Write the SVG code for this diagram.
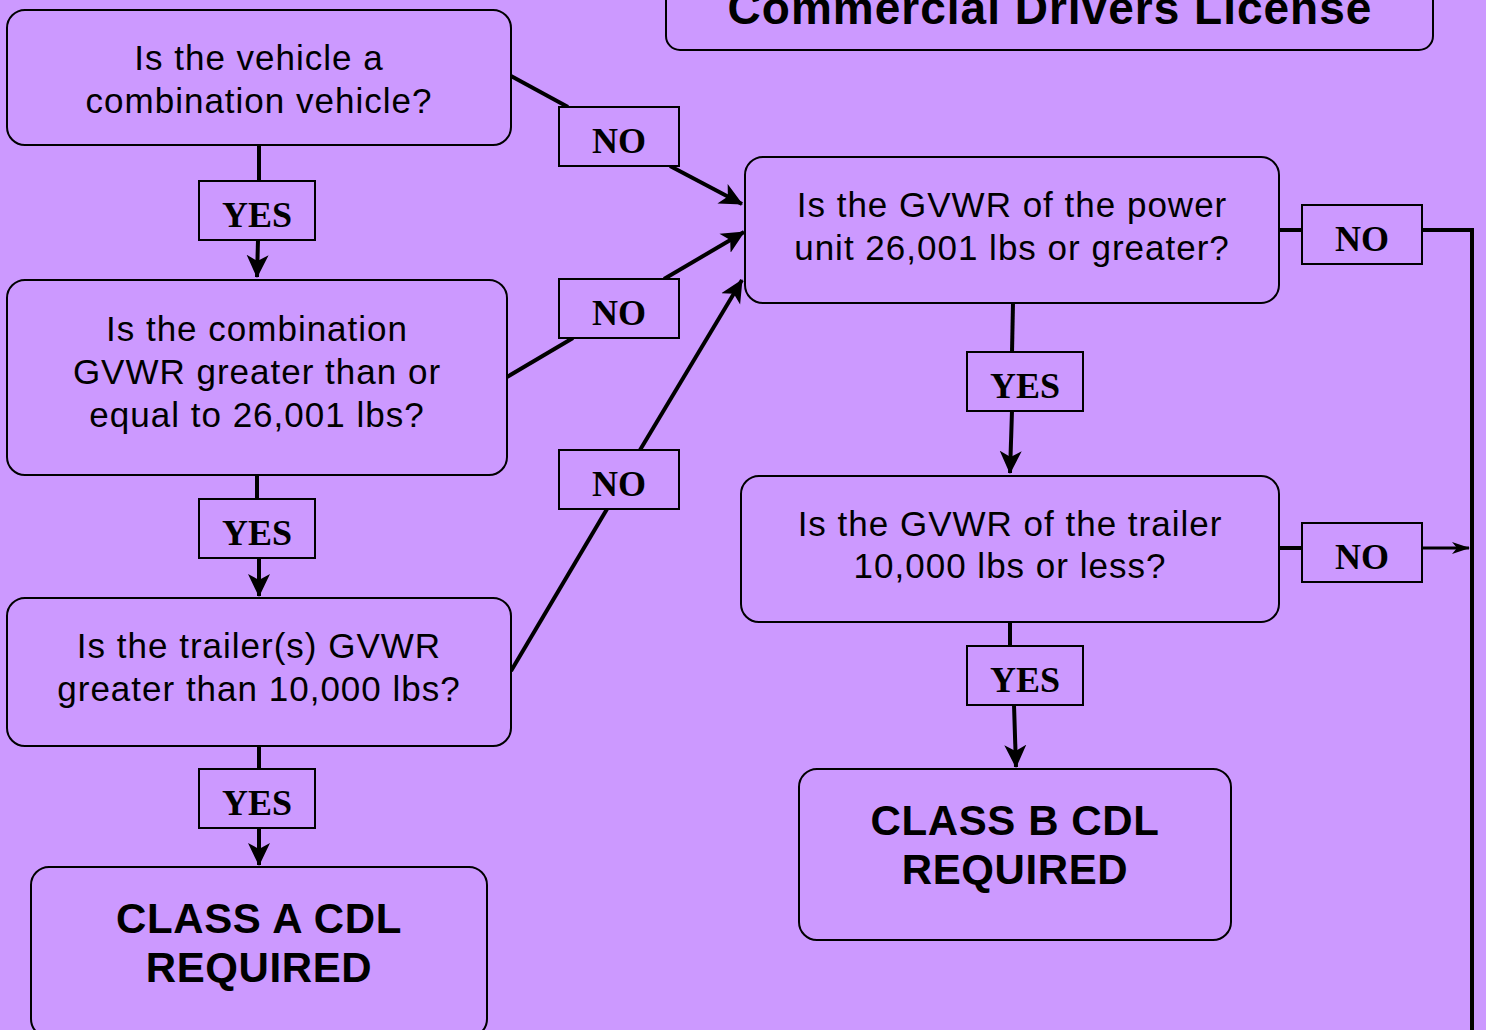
<svg xmlns="http://www.w3.org/2000/svg" width="1486" height="1030" viewBox="0 0 1486 1030">
<defs>
<marker id="ah" markerUnits="userSpaceOnUse" markerWidth="24" markerHeight="24" viewBox="0 0 24 24" refX="22" refY="12" orient="auto">
<path d="M0,1 L23,12 L0,23 L6,12 z" fill="#000"/>
</marker>
<marker id="ahs" markerUnits="userSpaceOnUse" markerWidth="18" markerHeight="14" viewBox="0 0 18 14" refX="17" refY="7" orient="auto">
<path d="M0,1 L18,7 L0,13 L5,7 z" fill="#000"/>
</marker>
<style>
.nd{fill:#CC99FF;stroke:#000;stroke-width:2}
.lb{fill:#CC99FF;stroke:#000;stroke-width:2}
.q{font-family:"Liberation Sans",Arial,sans-serif;font-size:35px;letter-spacing:1px;fill:#000;text-anchor:middle}
.big{font-family:"Liberation Sans",Arial,sans-serif;font-size:42px;letter-spacing:0.6px;font-weight:bold;fill:#000;text-anchor:middle}
.ttl{font-family:"Liberation Sans",Arial,sans-serif;font-size:46px;letter-spacing:1px;font-weight:bold;fill:#000;text-anchor:middle}
.lt{font-family:"Liberation Serif","Times New Roman",serif;font-size:36px;font-weight:bold;fill:#000;text-anchor:middle}
.c{fill:none;stroke:#000;stroke-width:4}
.cs{fill:none;stroke:#000;stroke-width:3}
</style>
</defs>
<rect width="1486" height="1030" fill="#CC99FF"/>
<g id="connectors">
<line class="c" x1="259" y1="145" x2="259" y2="181"/>
<line class="c" x1="258" y1="240" x2="257" y2="277" marker-end="url(#ah)"/>
<line class="c" x1="257" y1="475" x2="257" y2="499"/>
<line class="c" x1="259" y1="558" x2="259" y2="596" marker-end="url(#ah)"/>
<line class="c" x1="259" y1="746" x2="259" y2="769"/>
<line class="c" x1="259" y1="828" x2="259" y2="865" marker-end="url(#ah)"/>
<line class="c" x1="511" y1="76" x2="568" y2="107"/>
<line class="c" x1="670" y1="166" x2="742" y2="204" marker-end="url(#ah)"/>
<line class="c" x1="507" y1="377" x2="573" y2="338"/>
<line class="c" x1="664" y1="279" x2="744" y2="232" marker-end="url(#ah)"/>
<line class="c" x1="511" y1="671" x2="607" y2="509"/>
<line class="c" x1="640" y1="450" x2="742" y2="280" marker-end="url(#ah)"/>
<line class="c" x1="1013" y1="303" x2="1012" y2="352"/>
<line class="c" x1="1012" y1="411" x2="1010" y2="473" marker-end="url(#ah)"/>
<line class="c" x1="1010" y1="622" x2="1010" y2="646"/>
<line class="c" x1="1014" y1="705" x2="1016" y2="767" marker-end="url(#ah)"/>
<line class="c" x1="1279" y1="230" x2="1302" y2="230"/>
<polyline class="c" points="1422,230 1472,230 1472,1032"/>
<line class="c" x1="1279" y1="548" x2="1302" y2="548"/>
<line class="cs" x1="1422" y1="548" x2="1469" y2="548" marker-end="url(#ahs)"/>
</g>
<g id="title">
<rect class="nd" x="666" y="-20" width="767" height="70" rx="14"/>
<text class="ttl" x="1050" y="24">Commercial Drivers License</text>
</g>
<g id="n1">
<rect class="nd" x="7" y="10" width="504" height="135" rx="18"/>
<text class="q" x="259" y="70">Is the vehicle a</text>
<text class="q" x="259" y="113">combination vehicle?</text>
</g>
<g id="n2">
<rect class="nd" x="7" y="280" width="500" height="195" rx="18"/>
<text class="q" x="257" y="341">Is the combination</text>
<text class="q" x="257" y="384">GVWR greater than or</text>
<text class="q" x="257" y="427">equal to 26,001 lbs?</text>
</g>
<g id="n3">
<rect class="nd" x="7" y="598" width="504" height="148" rx="18"/>
<text class="q" x="259" y="658">Is the trailer(s) GVWR</text>
<text class="q" x="259" y="701">greater than 10,000 lbs?</text>
</g>
<g id="n4">
<rect class="nd" x="31" y="867" width="456" height="170" rx="18"/>
<text class="big" x="259" y="933">CLASS A CDL</text>
<text class="big" x="259" y="982">REQUIRED</text>
</g>
<g id="n5">
<rect class="nd" x="745" y="157" width="534" height="146" rx="18"/>
<text class="q" x="1012" y="217">Is the GVWR of the power</text>
<text class="q" x="1012" y="260">unit 26,001 lbs or greater?</text>
</g>
<g id="n6">
<rect class="nd" x="741" y="476" width="538" height="146" rx="18"/>
<text class="q" x="1010" y="536">Is the GVWR of the trailer</text>
<text class="q" x="1010" y="578">10,000 lbs or less?</text>
</g>
<g id="n7">
<rect class="nd" x="799" y="769" width="432" height="171" rx="18"/>
<text class="big" x="1015" y="835">CLASS B CDL</text>
<text class="big" x="1015" y="884">REQUIRED</text>
</g>
<g id="yes1"><rect class="lb" x="199" y="181" width="116" height="59"/><text class="lt" x="257" y="227">YES</text></g>
<g id="yes2"><rect class="lb" x="199" y="499" width="116" height="59"/><text class="lt" x="257" y="545">YES</text></g>
<g id="yes3"><rect class="lb" x="199" y="769" width="116" height="59"/><text class="lt" x="257" y="815">YES</text></g>
<g id="yes4"><rect class="lb" x="967" y="352" width="116" height="59"/><text class="lt" x="1025" y="398">YES</text></g>
<g id="yes5"><rect class="lb" x="967" y="646" width="116" height="59"/><text class="lt" x="1025" y="692">YES</text></g>
<g id="no1"><rect class="lb" x="559" y="107" width="120" height="59"/><text class="lt" x="619" y="153">NO</text></g>
<g id="no2"><rect class="lb" x="559" y="279" width="120" height="59"/><text class="lt" x="619" y="325">NO</text></g>
<g id="no3"><rect class="lb" x="559" y="450" width="120" height="59"/><text class="lt" x="619" y="496">NO</text></g>
<g id="no4"><rect class="lb" x="1302" y="205" width="120" height="59"/><text class="lt" x="1362" y="251">NO</text></g>
<g id="no5"><rect class="lb" x="1302" y="523" width="120" height="59"/><text class="lt" x="1362" y="569">NO</text></g>
</svg>
